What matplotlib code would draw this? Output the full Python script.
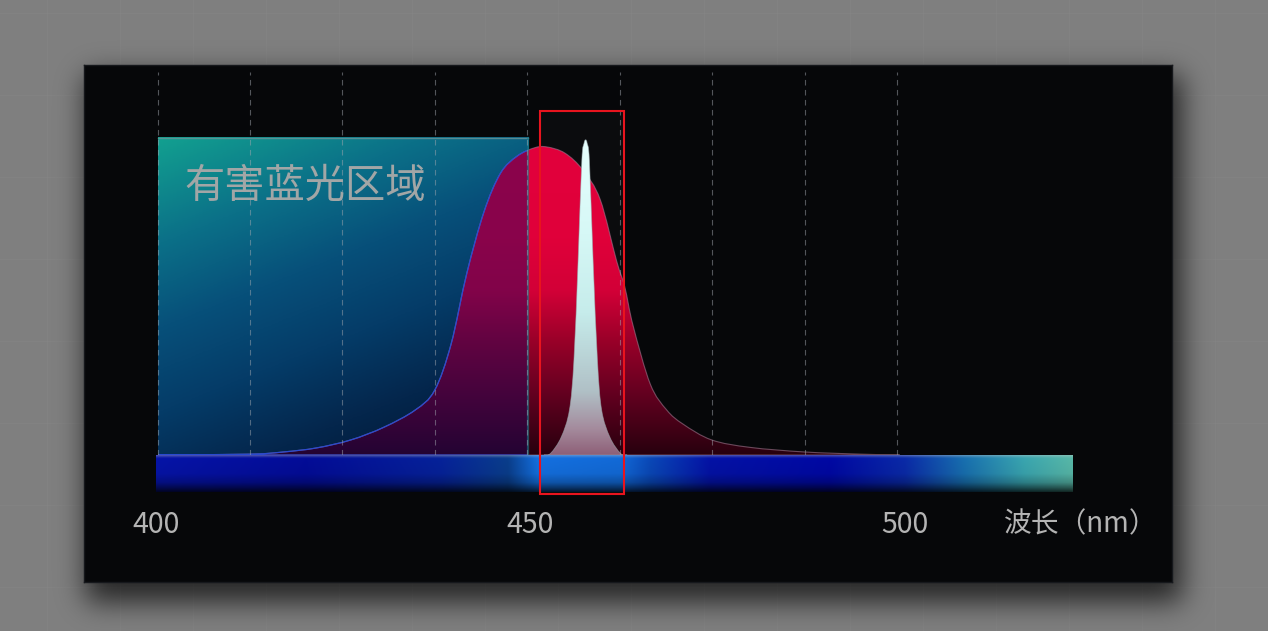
import numpy as np
import matplotlib.pyplot as plt
from matplotlib.colors import LinearSegmentedColormap, to_rgb
from matplotlib.patches import Rectangle, PathPatch
from matplotlib.path import Path

plt.rcParams['font.family'] = ['Noto Sans CJK SC', 'DejaVu Sans']

# -- Data (wavelength in nm, relative intensity) --

# broad LED emission (red bell)
led_nm = [400.3, 412.6, 417.0, 421.4, 426.0, 430.4, 434.6, 437.2, 439.4,
          441.5, 443.8, 446.0, 448.2, 450.5, 452.2, 454.6, 457.0, 459.3,
          461.5, 462.6, 463.7, 466.0, 468.2, 470.4, 474.2, 479.3, 486.6,
          494.0, 499.3]
led_int = [0.0, 0.003, 0.01, 0.023, 0.049, 0.09, 0.146, 0.21, 0.36,
           0.59, 0.79, 0.915, 0.97, 0.997, 1.0, 0.98, 0.925, 0.83,
           0.63, 0.545, 0.42, 0.23, 0.146, 0.10, 0.049, 0.025, 0.01,
           0.003, 0.0]

# narrow spike (white peak)
spike_nm = [451.8, 452.7, 454.1, 455.2, 455.8, 456.36, 456.85, 457.15,
            457.36, 457.57, 457.87, 458.36, 458.94, 459.5, 460.6, 462.0,
            462.9]
spike_int = [0.0, 0.006, 0.058, 0.146, 0.308, 0.633, 0.955, 1.012,
             1.023, 1.012, 0.955, 0.633, 0.308, 0.146, 0.058, 0.006,
             0.0]

harmful_range = (400.3, 449.7)
harmful_top = 1.03
harmful_label = "有害蓝光区域"

highlight_range = (451.3, 462.5)

spectrum_range = (400.0, 522.4)

grid_nm = [400.27, 412.55, 424.83, 437.25, 449.53, 461.95, 474.23, 486.65,
           498.93]

tick_nm = [400, 450, 500]
tick_labels = ["400", "450", "500"]
x_label = "波长（nm）"


def smooth_path(x, y):
    # Catmull-Rom through the read points, as cubic bezier segments
    pts = np.column_stack([x, y])
    n = len(pts)
    verts = [pts[0]]
    codes = [Path.MOVETO]
    for i in range(n - 1):
        p0 = pts[max(i - 1, 0)]
        p1 = pts[i]
        p2 = pts[i + 1]
        p3 = pts[min(i + 2, n - 1)]
        verts += [p1 + (p2 - p0) / 6, p2 - (p3 - p1) / 6, p2]
        codes += [Path.CURVE4] * 3
    verts.append(pts[0])
    codes.append(Path.CLOSEPOLY)
    return Path(verts, codes)


def vgrad(stops, n=256):
    cm = LinearSegmentedColormap.from_list("g", stops)
    c = cm(np.linspace(0, 1, n))
    return np.repeat(c[:, None, :], 2, axis=1)


def blur(a, sigma):
    k = np.arange(-3 * sigma, 3 * sigma + 1)
    k = np.exp(-0.5 * (k / sigma) ** 2)
    k /= k.sum()
    a = np.apply_along_axis(lambda r: np.convolve(r, k, mode='same'), 1, a)
    a = np.apply_along_axis(lambda c: np.convolve(c, k, mode='same'), 0, a)
    return a


# -- Figure, background tiles, shadow --

W, H = 1268, 631
fig = plt.figure(figsize=(W / 100, H / 100), dpi=100, facecolor='#7f7f7f')

bg = fig.add_axes([0, 0, 1, 1])
bg.set_xlim(0, W)
bg.set_ylim(H, 0)
bg.axis('off')
for x in np.arange(47, W, 73):
    bg.axvline(x, color='#8a8a8a', lw=1, alpha=0.3)
for y in np.arange(13, H, 82):
    bg.axhline(y, color='#8a8a8a', lw=1, alpha=0.3)

px0, py0, pw, ph = 84, 65, 1088, 517
mask = np.zeros((H, W))
mask[py0 + 10:py0 + ph + 20, px0 + 2:px0 + pw + 10] = 1.0
shadow = np.zeros((H, W, 4))
shadow[..., 3] = 0.7 * blur(mask, 14)
bg.imshow(shadow, extent=(0, W, H, 0), aspect='auto', zorder=2)
bg.set_xlim(0, W)
bg.set_ylim(H, 0)

# -- Main panel --

ax = fig.add_axes([px0 / W, 1 - (py0 + ph) / H, pw / W, ph / H])
ax.set_facecolor('#060709')
for s in ax.spines.values():
    s.set_color('#16181c')
    s.set_linewidth(1)
ax.set_xticks([])
ax.set_yticks([])

xlim = (390.39, 535.65)
ylim = (-0.412, 1.266)

# slightly lighter area inside the highlight box
hx0, hx1 = highlight_range
ax.add_patch(Rectangle((hx0, -0.127), hx1 - hx0, 1.244, facecolor='white',
                       alpha=0.025, lw=0, zorder=0.5))

# harmful blue light region (diagonal gradient)
rx0, rx1 = harmful_range
uu, vv = np.meshgrid(np.linspace(0, 1, 200), np.linspace(0, 1, 200))
g = np.clip(0.75 * vv + 0.35 * uu, 0, 1)
rect_cm = LinearSegmentedColormap.from_list(
    "rect", [(0, '#12a090'), (0.25, '#0b7088'), (0.45, '#07507a'),
             (0.65, '#053c68'), (0.85, '#04264c'), (1.0, '#031a38')])
ax.imshow(rect_cm(g), extent=(rx0, rx1, 0, harmful_top), origin='upper',
          aspect='auto', interpolation='bilinear', zorder=1)
rect_clip = Rectangle((rx0, 0), rx1 - rx0, harmful_top, transform=ax.transData,
                      facecolor='none', edgecolor='none')
ax.add_patch(rect_clip)

# broad LED curve with red gradient
led_path = smooth_path(led_nm, led_int)
led_patch = PathPatch(led_path, facecolor='none', edgecolor='#a07890',
                      lw=0.8, alpha=0.6, zorder=2.6)
ax.add_patch(led_patch)
im = ax.imshow(vgrad([(0, '#28000e'), (0.2, '#640020'), (0.36, '#960028'),
                      (0.53, '#d20037'), (0.7, '#e0003a'), (1, '#e2003c')]),
               extent=(min(led_nm), max(led_nm), 0, 1.0), origin='lower',
               aspect='auto', interpolation='bilinear', zorder=2)
im.set_clip_path(led_patch)

# part of the curve under the harmful region gets a purple tint
tint = PathPatch(led_path, facecolor='#200860', edgecolor='none', alpha=0.45,
                 zorder=2.5)
ax.add_patch(tint)
tint.set_clip_path(rect_clip)
edge_in = PathPatch(led_path, facecolor='none', edgecolor='#2a4ad0', lw=0.9,
                    zorder=2.7)
ax.add_patch(edge_in)
edge_in.set_clip_path(rect_clip)

# rect edges
ax.plot([rx0, rx1], [harmful_top, harmful_top], color='#6a9498', lw=1,
        alpha=0.8, zorder=3.5)
ax.plot([rx1, rx1], [0, harmful_top], color='#1a7a8a', lw=1.6, alpha=0.6,
        zorder=3.5)

# narrow spike with white/cyan gradient
spike_path = smooth_path(spike_nm, spike_int)
spike_patch = PathPatch(spike_path, facecolor='none', edgecolor='#9aa8ac',
                        lw=0.6, alpha=0.6, zorder=3.1)
ax.add_patch(spike_patch)
im2 = ax.imshow(vgrad([(0, '#8e6078'), (0.08, '#a48a9c'), (0.2, '#b0c0c6'),
                       (0.45, '#c6eceb'), (0.7, '#d6f8f6'), (1, '#e6fffd')]),
                extent=(min(spike_nm), max(spike_nm), 0, max(spike_int)),
                origin='lower', aspect='auto', interpolation='bilinear',
                zorder=3)
im2.set_clip_path(spike_patch)

# dashed guide lines
for x in grid_nm:
    ax.plot([x, x], [0, 1.243], color='#a0a6ae', lw=0.8, alpha=0.5,
            dashes=(5, 4), zorder=4)

# visible spectrum bar
bar_nm = [400, 420, 438, 447, 451, 462, 466, 474, 490, 500, 508, 516, 522.4]
bar_col = ['#0614a8', '#030c98', '#06229a', '#0a3e8c', '#1470e0', '#126ad8',
           '#0a48b8', '#0412a6', '#0008a4', '#0a2aa8', '#1870b0', '#3aa6b0',
           '#58b8a8']
sx0, sx1 = spectrum_range
cols = np.linspace(sx0, sx1, 700)
rgb = np.array([to_rgb(c) for c in bar_col])
row = np.stack([np.interp(cols, bar_nm, rgb[:, k]) for k in range(3)], -1)
f = np.linspace(0, 1, 60)
bright = np.interp(f, [0, 0.05, 0.5, 0.75, 0.9, 1.0],
                   [1.0, 1.0, 0.95, 0.75, 0.45, 0.22])
bar = row[None, :, :] * bright[:, None, None]
hl = np.interp(f, [0, 0.04, 0.08], [0.35, 0.15, 0.0])
bar = bar * (1 - hl[:, None, None]) + hl[:, None, None] * 0.8
ax.imshow(np.clip(bar, 0, 1), extent=(sx0, sx1, -0.12, 0), origin='upper',
          aspect='auto', interpolation='bilinear', zorder=5)

# texts
ax.text(403.8, 0.873, harmful_label, fontsize=29, color='#a2a6a6',
        ha='left', va='center', zorder=6)
for x, lab in zip(tick_nm, tick_labels):
    ax.text(x, -0.226, lab, fontsize=20.5, color='#b4b4b4', ha='center',
            va='center', zorder=6)
ax.text(513.2, -0.226, x_label, fontsize=20, color='#b4b4b4', ha='left',
        va='center', zorder=6)

# highlight box
ax.add_patch(Rectangle((hx0, -0.127), hx1 - hx0, 1.244, facecolor='none',
                       edgecolor='#e8141e', lw=1.5, zorder=7))

ax.set_xlim(*xlim)
ax.set_ylim(*ylim)

fig.savefig('out.png', dpi=100, facecolor=fig.get_facecolor())
